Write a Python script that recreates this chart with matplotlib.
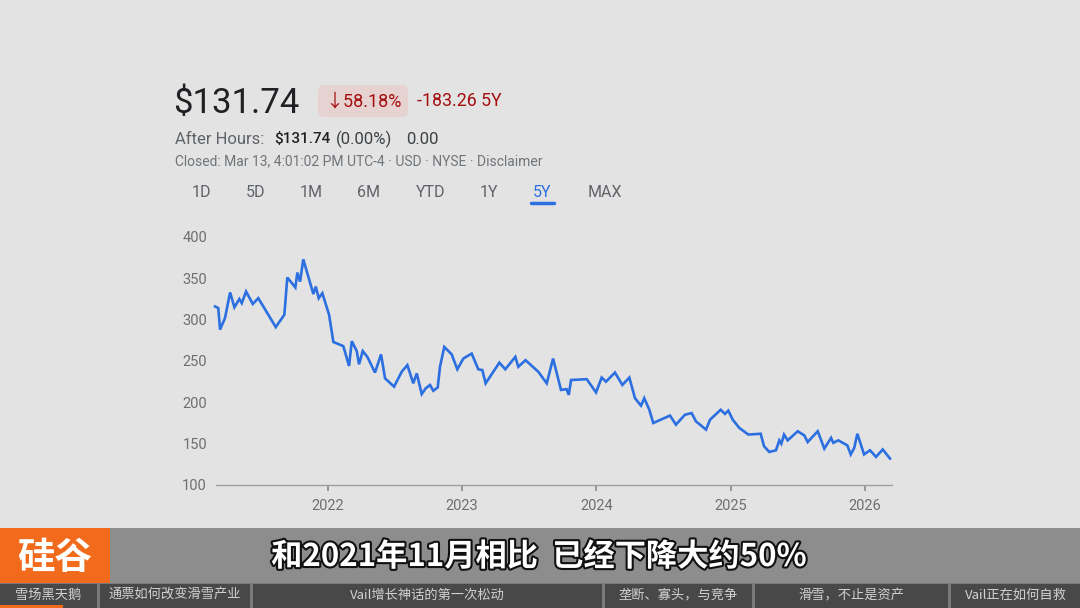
import numpy as np
import matplotlib
matplotlib.use("Agg")
import matplotlib.pyplot as plt
from matplotlib.patches import Rectangle, FancyBboxPatch
import matplotlib.patheffects as pe

plt.rcParams["font.family"] = ["Roboto", "Noto Sans CJK SC", "DejaVu Sans"]

# --- data (decimal years, price in USD) ---
dates = [
    2021.161, 2021.185, 2021.198, 2021.235, 2021.273, 2021.305, 2021.342, 2021.360, 2021.392, 2021.442,
    2021.483, 2021.613, 2021.677, 2021.699, 2021.759, 2021.774, 2021.794, 2021.818, 2021.893, 2021.911,
    2021.933, 2021.960,
    2022.010, 2022.042, 2022.116, 2022.159, 2022.179, 2022.216, 2022.233, 2022.261, 2022.295, 2022.352,
    2022.397, 2022.427, 2022.494, 2022.551, 2022.593, 2022.637, 2022.663, 2022.700, 2022.730, 2022.762,
    2022.786, 2022.819, 2022.836, 2022.868, 2022.923, 2022.965,
    2023.010, 2023.072, 2023.121, 2023.151, 2023.176, 2023.278, 2023.322, 2023.397, 2023.419, 2023.473,
    2023.568, 2023.631, 2023.678, 2023.737, 2023.778, 2023.795, 2023.812, 2023.929, 2023.998,
    2024.040, 2024.072, 2024.139, 2024.194, 2024.246, 2024.288, 2024.333, 2024.357, 2024.395, 2024.424,
    2024.549, 2024.593, 2024.660, 2024.710, 2024.742, 2024.817, 2024.847, 2024.926, 2024.958, 2024.983,
    2025.016, 2025.065, 2025.132, 2025.224, 2025.249, 2025.288, 2025.338, 2025.363, 2025.378, 2025.398,
    2025.425, 2025.500, 2025.549, 2025.574, 2025.649, 2025.698, 2025.748, 2025.765, 2025.802, 2025.869,
    2025.895, 2025.921, 2025.944, 2025.994,
    2026.038, 2026.083, 2026.133, 2026.187,
]
prices = [
    316, 314, 288, 302, 333, 315, 325, 320, 334, 319, 326, 291, 306, 351, 339, 357, 346, 373, 331, 340,
    326, 332,
    306, 273, 268, 244, 274, 262, 246, 262, 255, 236, 258, 229, 219, 237, 245, 223, 235, 210, 217, 221,
    214, 218, 243, 267, 258, 240,
    253, 259, 240, 239, 223, 248, 240, 255, 243, 251, 237, 223, 253, 215, 216, 209, 227, 228, 212,
    230, 225, 236, 221, 230, 205, 196, 205, 191, 175, 184, 173, 185, 187, 177, 167, 179, 191, 186, 190,
    179, 169, 161, 162, 147, 140, 142, 154, 150, 161, 154, 165, 160, 152, 165, 144, 157, 151, 154, 148,
    137, 145, 162, 137,
    142, 134, 143, 132,
]
y_ticks = [100, 150, 200, 250, 300, 350, 400]
x_ticks = [2022, 2023, 2024, 2025, 2026]
range_tabs = ["1D", "5D", "1M", "6M", "YTD", "1Y", "5Y", "MAX"]
nav_items = ["雪场黑天鹅", "通票如何改变滑雪产业", "Vail增长神话的第一次松动",
             "垄断、寡头，与竞争", "滑雪，不止是资产", "Vail正在如何自救"]
subtitle = "和2021年11月相比  已经下降大约50%"

BG = "#e3e3e3"
BLUE = "#2c6fe0"
RED = "#a50e0e"
GREY = "#5f6368"

fig = plt.figure(figsize=(10.8, 6.08), dpi=100, facecolor=BG)

# overlay axes in pixel coordinates for header and bottom bar
ov = fig.add_axes([0, 0, 1, 1], zorder=0)
ov.set_xlim(0, 1080)
ov.set_ylim(608, 0)
ov.axis("off")

# --- header ---
ov.text(173, 103, "$131.74", fontsize=25, color="#202124", va="center", ha="left")
ov.add_patch(FancyBboxPatch((318, 85), 90, 32, boxstyle="round,pad=0,rounding_size=6",
                            facecolor="#e7d2d2", edgecolor="none"))
ov.text(363, 101.5, "↓58.18%", fontsize=13, color=RED, va="center", ha="center")
ov.text(417, 101.5, "-183.26 5Y", fontsize=12.8, color=RED, va="center", ha="left")

ov.text(175, 139, "After Hours:", fontsize=12, color=GREY, va="center", ha="left")
ov.text(274, 139, "$131.74", fontsize=11, color="#202124", va="center", ha="left", fontweight="medium")
ov.text(336, 139, "(0.00%)", fontsize=12, color="#3c4043", va="center", ha="left")
ov.text(406, 139, "0.00", fontsize=12, color="#3c4043", va="center", ha="left")
ov.text(175, 161, "Closed: Mar 13, 4:01:02 PM UTC-4 · USD · NYSE · Disclaimer",
        fontsize=10, color="#70757a", va="center", ha="left")

tab_x = [201, 256, 311, 368, 431, 489, 542, 605]
for lbl, tx in zip(range_tabs, tab_x):
    ov.text(tx, 192.5, lbl, fontsize=11.5, color=BLUE if lbl == "5Y" else GREY,
            va="center", ha="center")
ov.plot([531, 554], [203, 203], color=BLUE, lw=2.5, solid_capstyle="round")

# --- bottom subtitle bar ---
ov.add_patch(Rectangle((0, 528), 1080, 55, facecolor="#8d8d8d", edgecolor="none"))
ov.add_patch(Rectangle((0, 528), 110, 55, facecolor="#f26a1b", edgecolor="none"))
ov.text(55, 557, "硅谷", fontsize=27, color="white", va="center", ha="center",
        family=["Noto Sans CJK SC"], fontweight="bold")
t = ov.text(539, 557, subtitle, fontsize=22.5, color="white", va="center", ha="center",
            family=["Noto Sans CJK SC", "DejaVu Sans"], fontweight="bold")
t.set_path_effects([pe.withStroke(linewidth=3, foreground="#111111")])

ov.add_patch(Rectangle((0, 583), 1080, 25, facecolor="#7a7a7a", edgecolor="none"))
cells = [(0, 97), (100, 250), (253, 602), (605, 752), (755, 948), (951, 1080)]
for (c0, c1), name in zip(cells, nav_items):
    ov.add_patch(Rectangle((c0, 584), c1 - c0, 24, facecolor="#484848", edgecolor="none"))
    ov.text((c0 + c1) / 2, 595.5, name, fontsize=9.5, color="#d2d2d2", va="center", ha="center",
            family=["Noto Sans CJK SC", "DejaVu Sans"])
ov.add_patch(Rectangle((0, 605), 63, 3, facecolor="#f26a1b", edgecolor="none"))

# --- price chart ---
ax = fig.add_axes([216 / 1080, (608 - 485) / 608, 676 / 1080, 248 / 608], zorder=1)
ax.set_facecolor("none")
ax.plot(dates, prices, color=BLUE, lw=1.9, solid_joinstyle="miter", clip_on=False)
ax.set_xlim(2021.168, 2026.202)
ax.set_ylim(100, 400)

for s in ["top", "right", "left"]:
    ax.spines[s].set_visible(False)
ax.spines["bottom"].set_color("#a0a0a0")
ax.spines["bottom"].set_linewidth(1)

ax.set_yticks(y_ticks)
ax.set_yticklabels([str(v) for v in y_ticks])
ax.tick_params(axis="y", length=0, pad=6.5, labelsize=10.5, labelcolor="#6f6f6f")
ax.set_xticks(x_ticks)
ax.set_xticklabels([str(v) for v in x_ticks])
ax.tick_params(axis="x", direction="out", length=4, width=1.2, color="#8a8a8a",
               pad=6, labelsize=10.5, labelcolor="#6f6f6f")

fig.savefig("out.png", dpi=100, facecolor=BG)
